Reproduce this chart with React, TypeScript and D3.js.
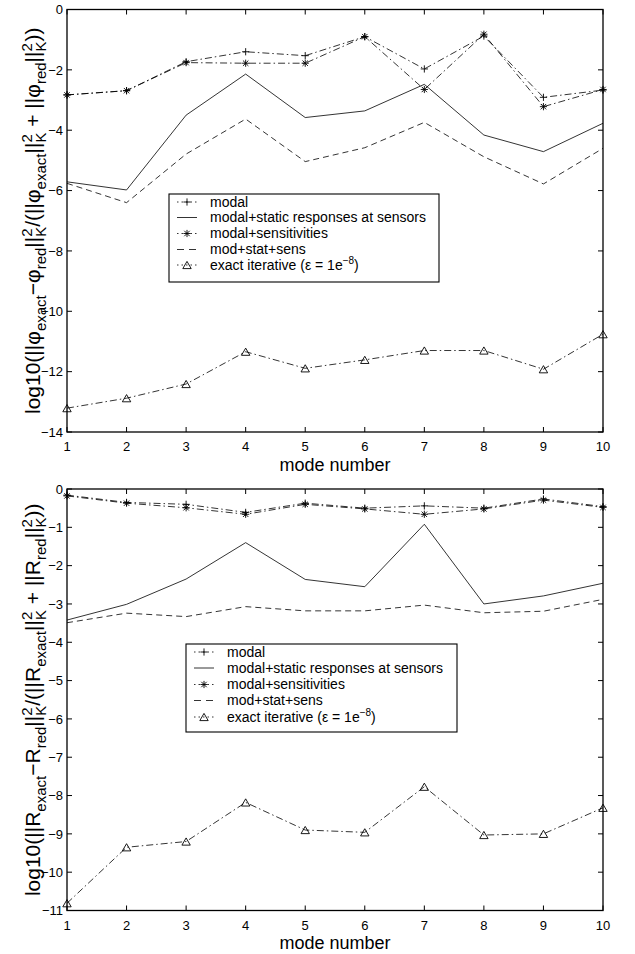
import React from 'react';
import * as d3 from 'd3';

const modes = [1, 2, 3, 4, 5, 6, 7, 8, 9, 10];

const topModal = [-2.83, -2.69, -1.73, -1.4, -1.53, -0.9, -1.97, -0.88, -2.91, -2.67];
const topSens = [-2.83, -2.69, -1.76, -1.78, -1.78, -0.9, -2.65, -0.82, -3.22, -2.65];
const topStatic = [-5.71, -5.98, -3.5, -2.14, -3.58, -3.36, -2.48, -4.16, -4.71, -3.77];
const topModStatSens = [-5.76, -6.4, -4.79, -3.63, -5.04, -4.58, -3.74, -4.88, -5.78, -4.6];
const topExact = [-13.21, -12.88, -12.41, -11.34, -11.89, -11.61, -11.3, -11.3, -11.92, -10.76];
const topYTicks = [-14, -12, -10, -8, -6, -4, -2, 0];

const botModal = [-0.16, -0.35, -0.4, -0.61, -0.37, -0.5, -0.44, -0.5, -0.26, -0.46];
const botSens = [-0.18, -0.37, -0.49, -0.66, -0.4, -0.52, -0.66, -0.52, -0.29, -0.48];
const botStatic = [-3.42, -3.01, -2.35, -1.4, -2.36, -2.55, -0.92, -3.0, -2.79, -2.46];
const botModStatSens = [-3.49, -3.24, -3.33, -3.07, -3.18, -3.18, -3.03, -3.23, -3.19, -2.88];
const botExact = [-10.81, -9.35, -9.2, -8.18, -8.9, -8.96, -7.77, -9.03, -9.0, -8.32];
const botYTicks = [-11, -10, -9, -8, -7, -6, -5, -4, -3, -2, -1, 0];

const legendLabels = ['modal', 'modal+static responses at sensors', 'modal+sensitivities', 'mod+stat+sens', 'exact iterative'];

const FONT = '"Liberation Sans", Arial, Helvetica, sans-serif';
const DASHDOT = '7 3 1.5 3';
const DASHED = '6 4';

type Marker = 'plus' | 'star' | 'tri' | 'none';
interface SeriesStyle { dash: string | undefined; marker: Marker; }
const styles: SeriesStyle[] = [
  { dash: DASHDOT, marker: 'plus' },
  { dash: undefined, marker: 'none' },
  { dash: DASHDOT, marker: 'star' },
  { dash: DASHED, marker: 'none' },
  { dash: DASHDOT, marker: 'tri' },
];

function MarkerShape({ type, x, y }: { type: Marker; x: number; y: number }) {
  const s = 3.6;
  if (type === 'plus') {
    return (
      <g stroke="#000" strokeWidth={0.9}>
        <line x1={x - s} y1={y} x2={x + s} y2={y} />
        <line x1={x} y1={y - s} x2={x} y2={y + s} />
      </g>
    );
  }
  if (type === 'star') {
    const d = s * 0.75;
    return (
      <g stroke="#000" strokeWidth={0.9}>
        <line x1={x - s} y1={y} x2={x + s} y2={y} />
        <line x1={x} y1={y - s} x2={x} y2={y + s} />
        <line x1={x - d} y1={y - d} x2={x + d} y2={y + d} />
        <line x1={x - d} y1={y + d} x2={x + d} y2={y - d} />
      </g>
    );
  }
  if (type === 'tri') {
    const w = 4.2;
    const h = 3.6;
    return (
      <polygon
        points={`${x},${y - h} ${x - w},${y + h} ${x + w},${y + h}`}
        fill="none"
        stroke="#000"
        strokeWidth={0.9}
      />
    );
  }
  return null;
}

type Seg = { t: string; k: 'n' | 'sub' | 'ss' };

function labelSegs(sym: string): Seg[] {
  return [
    { t: `log10(||${sym}`, k: 'n' },
    { t: 'exact', k: 'sub' },
    { t: `\u2212${sym}`, k: 'n' },
    { t: 'red', k: 'sub' },
    { t: '||', k: 'n' },
    { t: '', k: 'ss' },
    { t: `/(||${sym}`, k: 'n' },
    { t: 'exact', k: 'sub' },
    { t: '||', k: 'n' },
    { t: '', k: 'ss' },
    { t: ` + ||${sym}`, k: 'n' },
    { t: 'red', k: 'sub' },
    { t: '||', k: 'n' },
    { t: '', k: 'ss' },
    { t: '))', k: 'n' },
  ];
}

function YLabel({ x, y, sym }: { x: number; y: number; sym: string }) {
  const main = 21;
  const small = 15;
  const subOff = 5.5;
  const supOff = -8.5;
  let cur = 0;
  const spans: React.ReactNode[] = [];
  labelSegs(sym).forEach((s, i) => {
    if (s.k === 'n') {
      spans.push(<tspan key={i} dy={0 - cur} fontSize={main}>{s.t}</tspan>);
      cur = 0;
    } else if (s.k === 'sub') {
      spans.push(<tspan key={i} dy={subOff - cur} fontSize={small}>{s.t}</tspan>);
      cur = subOff;
    } else {
      spans.push(<tspan key={i + 'a'} dy={supOff - cur} fontSize={small}>2</tspan>);
      spans.push(<tspan key={i + 'b'} dx={-small * 0.556} dy={subOff - supOff} fontSize={small}>K</tspan>);
      cur = subOff;
    }
  });
  return (
    <text transform={`translate(${x},${y}) rotate(-90)`} textAnchor="middle" fontFamily={FONT} fill="#000">
      {spans}
    </text>
  );
}

interface PanelProps {
  top: number;
  bottom: number;
  domain: [number, number];
  yTicks: number[];
  series: number[][];
  legend: { x: number; y: number; w: number; h: number; rowY: number[] };
  sym: string;
}

const LEFT = 67;
const RIGHT = 603;

function Panel({ top, bottom, domain, yTicks, series, legend, sym }: PanelProps) {
  const x = d3.scaleLinear().domain([1, 10]).range([LEFT, RIGHT]);
  const y = d3.scaleLinear().domain(domain).range([bottom, top]);
  const line = d3
    .line<number>()
    .x((_, i) => x(modes[i]))
    .y((d) => y(d));
  const tl = 5;
  return (
    <g>
      {series.map((vals, si) => (
        <path
          key={si}
          d={line(vals) || ''}
          fill="none"
          stroke="#000"
          strokeWidth={0.8}
          strokeDasharray={styles[si].dash}
        />
      ))}
      {series.map((vals, si) =>
        styles[si].marker === 'none'
          ? null
          : vals.map((v, i) => <MarkerShape key={`${si}-${i}`} type={styles[si].marker} x={x(modes[i])} y={y(v)} />)
      )}
      <rect x={LEFT} y={top} width={RIGHT - LEFT} height={bottom - top} fill="none" stroke="#000" strokeWidth={1.3} />
      {modes.map((m) => (
        <g key={'xt' + m}>
          <line x1={x(m)} x2={x(m)} y1={bottom} y2={bottom - tl} stroke="#000" strokeWidth={1} />
          <line x1={x(m)} x2={x(m)} y1={top} y2={top + tl} stroke="#000" strokeWidth={1} />
          <text x={x(m)} y={bottom + 19} textAnchor="middle" fontSize={13} fontFamily={FONT}>
            {m}
          </text>
        </g>
      ))}
      {yTicks.map((t) => (
        <g key={'yt' + t}>
          <line x1={LEFT} x2={LEFT + tl} y1={y(t)} y2={y(t)} stroke="#000" strokeWidth={1} />
          <line x1={RIGHT} x2={RIGHT - tl} y1={y(t)} y2={y(t)} stroke="#000" strokeWidth={1} />
          <text x={63} y={y(t) + 4.7} textAnchor="end" fontSize={13} fontFamily={FONT}>
            {t < 0 ? `\u2212${Math.abs(t)}` : `${t}`}
          </text>
        </g>
      ))}
      <text x={(LEFT + RIGHT) / 2} y={bottom + 38.5} textAnchor="middle" fontSize={18} fontFamily={FONT}>
        mode number
      </text>
      <YLabel x={40} y={(top + bottom) / 2} sym={sym} />
      <rect x={legend.x} y={legend.y} width={legend.w} height={legend.h} fill="#fff" stroke="#000" strokeWidth={1.1} />
      {legendLabels.map((lab, i) => {
        const ry = legend.rowY[i];
        const sx1 = legend.x + 8;
        const sx2 = legend.x + 28;
        return (
          <g key={'lg' + i}>
            <line x1={sx1} x2={sx2} y1={ry} y2={ry} stroke="#000" strokeWidth={0.8} strokeDasharray={styles[i].dash === DASHDOT ? '1.5 3' : styles[i].dash === DASHED ? '7 5' : undefined} />
            <MarkerShape type={styles[i].marker} x={(sx1 + sx2) / 2} y={ry} />
            <text x={legend.x + 41} y={ry + 4.5} fontSize={14} fontFamily={FONT}>
              {i === 4 ? (
                <>
                  {'exact iterative (\u03b5 = 1e'}
                  <tspan dy={-6} fontSize={10}>{'\u22128'}</tspan>
                  <tspan dy={6}>)</tspan>
                </>
              ) : (
                lab
              )}
            </text>
          </g>
        );
      })}
    </g>
  );
}

export default function App() {
  return (
    <svg
      width={635}
      height={954}
      style={{ position: 'absolute', left: 0, top: 0, background: '#fff' }}
      fontFamily={FONT}
    >
      <rect x={0} y={0} width={635} height={954} fill="#fff" />
      <Panel
        top={9.5}
        bottom={432}
        domain={[-14, 0]}
        yTicks={topYTicks}
        series={[topModal, topStatic, topSens, topModStatSens, topExact]}
        legend={{ x: 169, y: 194, w: 270, h: 88, rowY: [202, 217.5, 233.5, 249.5, 265] }}
        sym={'\u03c6'}
      />
      <Panel
        top={489}
        bottom={910.5}
        domain={[-11, 0]}
        yTicks={botYTicks}
        series={[botModal, botStatic, botSens, botModStatSens, botExact]}
        legend={{ x: 186, y: 644, w: 271, h: 88, rowY: [652, 668, 684.5, 700.5, 717] }}
        sym={'R'}
      />
    </svg>
  );
}
